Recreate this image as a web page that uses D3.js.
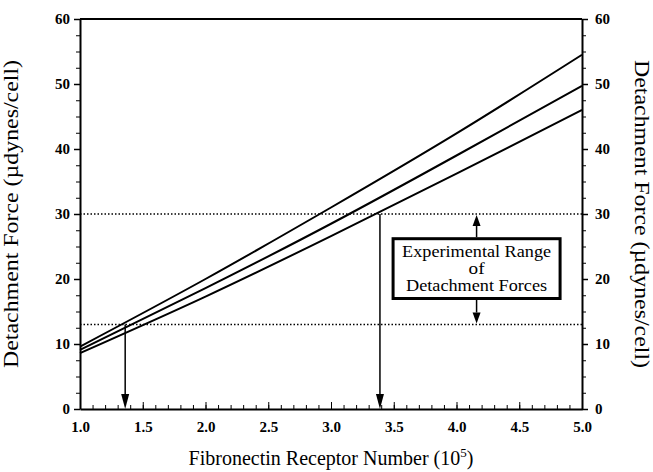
<!DOCTYPE html>
<html>
<head>
<meta charset="utf-8">
<script src="https://cdn.jsdelivr.net/npm/d3@7"></script>
<style>
  body { margin: 0; background: #fff; }
  text { font-family: "Liberation Serif", "Times New Roman", serif; fill: #000; }
  .tick-label { font-family: "Liberation Serif", serif; font-size: 15px; font-weight: bold; }
  .axis-title { font-size: 20px; }
  .box-text { font-size: 16px; }
</style>
</head>
<body>
<div id="chart"></div>
<script>
// receptor number (10^5)
var receptors = [1.0, 2.0, 3.0, 4.0, 5.0];
// detachment force curves (µdynes/cell)
var upperForce = [9.6, 20.0, 31.0, 42.4, 54.5];
var middleForce = [9.1, 18.6, 28.5, 39.0, 49.7];
var lowerForce = [8.6, 17.3, 26.6, 36.2, 46.0];
// experimental range of detachment forces
var rangeBounds = [13, 30];
// receptor numbers where arrows drop to the axis
var arrowMarks = [{x: 1.36, y: 13}, {x: 3.39, y: 30}];
var xTicks = [1.0, 1.5, 2.0, 2.5, 3.0, 3.5, 4.0, 4.5, 5.0];
var yTicks = [0, 10, 20, 30, 40, 50, 60];
var boxLines = ["Experimental Range", "of", "Detachment Forces"];
var boxLineWidths = [149, 16, 141];

var margin = { top: 19, right: 71, bottom: 63, left: 80 };
var width = 653 - margin.left - margin.right,
    height = 472 - margin.top - margin.bottom;

var svg = d3.select("#chart").append("svg")
    .attr("width", 653)
    .attr("height", 472);
var g = svg.append("g")
    .attr("transform", "translate(" + margin.left + "," + margin.top + ")");

var x = d3.scaleLinear().domain([1, 5]).range([0, width]);
var y = d3.scaleLinear().domain([0, 60]).range([height, 0]);

function serifLabels(a) {
    a.attr("font-family", "Liberation Serif, serif").attr("font-size", 15).attr("font-weight", "bold");
    a.selectAll("text").attr("class", "tick-label");
}

// x axis: ticks pointing inward
var xMinor = d3.range(10, 51).map(function(d) { return d / 10; });
g.append("g")
    .attr("transform", "translate(0," + height + ")")
    .call(d3.axisBottom(x).tickValues(xMinor).tickSize(-4).tickFormat(""))
    .call(function(a) { a.select(".domain").remove(); });
g.append("g")
    .attr("transform", "translate(0," + height + ")")
    .call(d3.axisBottom(x).tickValues(xTicks).tickSize(-7).tickSizeOuter(0)
        .tickFormat(d3.format(".1f")))
    .call(function(a) {
        serifLabels(a);
        a.select(".domain").attr("stroke-width", 2);
        a.selectAll("text").attr("y", 12);
    });

// y axes: ticks pointing outward
var yMinor = d3.range(0, 61, 2.5);
[["left", 0, d3.axisLeft], ["right", width, d3.axisRight]].forEach(function(s) {
    var ag = g.append("g").attr("transform", "translate(" + s[1] + ",0)");
    ag.append("g")
        .call(s[2](y).tickValues(yMinor).tickSize(4).tickFormat(""))
        .call(function(a) { a.select(".domain").remove(); });
    ag.append("g")
        .call(s[2](y).tickValues(yTicks).tickSize(6).tickSizeOuter(0))
        .call(function(a) {
            serifLabels(a);
            a.select(".domain").attr("stroke-width", 2);
            a.selectAll("line").attr("stroke-width", 1.5);
            a.selectAll("text").attr("x", s[0] == "left" ? -10 : 13);
        });
});

// top frame
g.append("line")
    .attr("x1", 0).attr("x2", width)
    .attr("y1", y(60)).attr("y2", y(60))
    .attr("stroke", "#000").attr("stroke-width", 2);

// dotted range lines
g.selectAll(".range-line").data(rangeBounds).enter().append("line")
    .attr("class", "range-line")
    .attr("x1", 0).attr("x2", width)
    .attr("y1", function(d) { return y(d); })
    .attr("y2", function(d) { return y(d); })
    .attr("stroke", "#000").attr("stroke-width", 1.5)
    .attr("stroke-dasharray", "1.5,2");

// force curves
var line = d3.line()
    .x(function(d, i) { return x(receptors[i]); })
    .y(function(d) { return y(d); })
    .curve(d3.curveNatural);
g.selectAll(".curve").data([upperForce, middleForce, lowerForce]).enter().append("path")
    .attr("class", "curve")
    .attr("d", line)
    .attr("fill", "none")
    .attr("stroke", "#000")
    .attr("stroke-width", 2);

// arrow helper: shaft from (x0,y0) to tip (x1,y1)
function arrow(x0, y0, x1, y1, headLen, headW) {
    var dir = y1 > y0 ? 1 : -1;
    g.append("line")
        .attr("x1", x0).attr("x2", x1)
        .attr("y1", y0).attr("y2", y1 - dir * headLen)
        .attr("stroke", "#000").attr("stroke-width", 1.5);
    g.append("path")
        .attr("d", "M" + (x1 - headW / 2) + "," + (y1 - dir * headLen) +
            "L" + (x1 + headW / 2) + "," + (y1 - dir * headLen) +
            "L" + x1 + "," + y1 + "Z")
        .attr("fill", "#000");
}

arrowMarks.forEach(function(m) {
    arrow(x(m.x), y(m.y), x(m.x), y(0), 15, 8);
});

// experimental range box
var boxCx = x(4.16);
var boxTop = y(26.2), boxBottom = y(17.0);
var boxW = 167;
g.append("rect")
    .attr("x", boxCx - boxW / 2).attr("y", boxTop)
    .attr("width", boxW).attr("height", boxBottom - boxTop)
    .attr("fill", "#fff").attr("stroke", "#000").attr("stroke-width", 3);
g.selectAll(".box-text").data(boxLines).enter().append("text")
    .attr("class", "box-text")
    .attr("x", boxCx)
    .attr("y", function(d, i) { return boxTop + 18 + i * 17; })
    .attr("text-anchor", "middle")
    .attr("textLength", function(d, i) { return boxLineWidths[i]; })
    .attr("lengthAdjust", "spacingAndGlyphs")
    .text(function(d) { return d; });
arrow(boxCx, boxTop - 1.5, boxCx, y(rangeBounds[1]) + 1, 11, 8);
arrow(boxCx, boxBottom + 1.5, boxCx, y(rangeBounds[0]) - 1, 11, 8);

// axis titles
svg.append("text")
    .attr("class", "axis-title")
    .attr("transform", "translate(18," + (margin.top + height / 2) + ") rotate(-90)")
    .attr("text-anchor", "middle")
    .attr("textLength", 308)
    .attr("lengthAdjust", "spacingAndGlyphs")
    .text("Detachment Force (\u00b5dynes/cell)");
svg.append("text")
    .attr("class", "axis-title")
    .attr("transform", "translate(635," + (margin.top + height / 2) + ") rotate(90)")
    .attr("text-anchor", "middle")
    .attr("textLength", 308)
    .attr("lengthAdjust", "spacingAndGlyphs")
    .text("Detachment Force (\u00b5dynes/cell)");
var xt = svg.append("text")
    .attr("class", "axis-title")
    .attr("x", margin.left + width / 2)
    .attr("y", 465)
    .attr("text-anchor", "middle");
xt.append("tspan").text("Fibronectin Receptor Number  (10");
xt.append("tspan").attr("dy", -8).attr("font-size", 13).text("5");
xt.append("tspan").attr("dy", 8).text(")");
</script>
</body>
</html>
